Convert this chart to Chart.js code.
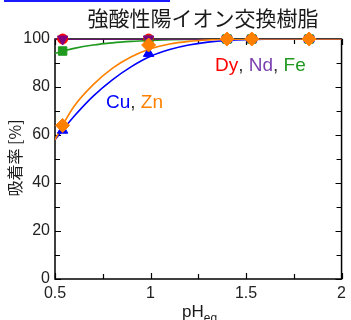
<!DOCTYPE html>
<html>
<head>
<meta charset="utf-8">
<script src="https://cdn.jsdelivr.net/npm/chart.js@4"></script>
<style>
  html, body { margin: 0; padding: 0; background: #fff; }
  #wrap { position: relative; width: 351px; height: 320px; }
  #link { position: absolute; left: 4px; top: 0; width: 166px; height: 2px; background: #1a1aff; }
</style>
</head>
<body>
<div id="wrap">
  <canvas id="chart" width="351" height="320"></canvas>
  <div id="link"></div>
</div>
<script>
// measured points (pH vs adsorption %)
const phPoints = [0.54, 0.99, 1.4, 1.53, 1.83];
const cuRate = [62, 94, 100, 100, 100];
const znRate = [64, 97.5, 100, 100, 100];
const feRate = [95, 99.5, 100, 100, 100];
const ndRate = [100, 100, 100, 100, 100];
const dyRate = [100, 100, 100, 100, 100];

// fitted curves
const fitPh = [0.5, 0.55, 0.6, 0.7, 0.8, 0.9, 1.0, 1.1, 1.2, 1.3, 1.4, 1.6, 2.0];
const cuFit = [58, 63, 67.8, 76.2, 83, 88.5, 92.8, 95.6, 97.5, 98.7, 99.4, 99.9, 100];
const znFit = [58, 65.5, 72, 81, 87.8, 92.6, 95.9, 97.9, 99, 99.6, 99.9, 100, 100];
const feFit = [94, 95.1, 96.1, 97.5, 98.4, 99, 99.4, 99.7, 99.85, 99.95, 100, 100, 100];
const ndFit = [100, 100, 100, 100, 100, 100, 100, 100, 100, 100, 100, 100, 100];

const xTicks = [0.5, 1, 1.5, 2];

const BLUE = '#0000ff', ORANGE = '#ff8000', GREEN = '#1f9a1f', PURPLE = '#800080', RED = '#ff0000';

const pts = (xs, ys) => xs.map((x, i) => ({ x: x, y: ys[i] }));

function markerSet(data, color, style, r, rot, order) {
  return {
    data: pts(phPoints, data), showLine: false, clip: false,
    pointStyle: style, pointRadius: r, pointRotation: rot || 0,
    backgroundColor: color, borderColor: color, borderWidth: 1, order: order
  };
}
function curveSet(data, color, order) {
  return {
    data: pts(fitPh, data), showLine: true, pointRadius: 0,
    borderColor: color, borderWidth: 1.6, cubicInterpolationMode: 'monotone', order: order
  };
}

// inward ticks, frame and the text labels
const decor = {
  id: 'decor',
  beforeDatasetsDraw(chart) {
    const ctx = chart.ctx, a = chart.chartArea;
    const xs = chart.scales.x, ys = chart.scales.y;
    ctx.save();
    ctx.strokeStyle = '#000';
    ctx.lineWidth = 1.5;
    ctx.strokeRect(a.left, a.top, a.right - a.left, a.bottom - a.top);
    ctx.lineWidth = 1.2;
    ctx.beginPath();
    for (let v = 0; v <= 100; v += 10) {
      const y = Math.round(ys.getPixelForValue(v)) + 0.5;
      const len = v % 20 === 0 ? 6 : 5;
      ctx.moveTo(a.left, y); ctx.lineTo(a.left + len, y);
      ctx.moveTo(a.right, y); ctx.lineTo(a.right - len, y);
    }
    for (let v = 0.5; v <= 2.001; v += 0.25) {
      const x = Math.round(xs.getPixelForValue(v)) + 0.5;
      const len = Math.abs(v * 2 - Math.round(v * 2)) < 0.01 ? 6 : 5;
      ctx.moveTo(x, a.bottom); ctx.lineTo(x, a.bottom - len);
      ctx.moveTo(x, a.top); ctx.lineTo(x, a.top + len);
    }
    ctx.stroke();
    ctx.restore();
  },
  afterDraw(chart) {
    const ctx = chart.ctx;
    ctx.save();
    // title
    ctx.fillStyle = '#1a1a1a';
    ctx.textAlign = 'center';
    ctx.textBaseline = 'middle';
    ctx.font = '21px "Noto Sans CJK JP"';
    ctx.fillText('強酸性陽イオン交換樹脂', 203, 18);

    // y axis title
    ctx.save();
    ctx.translate(15, 158);
    ctx.rotate(-Math.PI / 2);
    ctx.font = '16px "Noto Sans CJK JP"';
    ctx.fillText('吸着率 [%]', 0, 0);
    ctx.restore();

    // x axis title pH_eq
    ctx.textAlign = 'left';
    ctx.textBaseline = 'alphabetic';
    ctx.font = '17px "Liberation Sans"';
    ctx.fillText('pH', 182, 317);
    const w = ctx.measureText('pH').width;
    ctx.font = '12px "Liberation Sans"';
    ctx.fillText('eq', 182 + w, 322);

    // series labels
    function colored(parts, x, y) {
      ctx.font = '19px "Liberation Sans"';
      ctx.textBaseline = 'middle';
      let cx = x;
      parts.forEach(p => {
        ctx.fillStyle = p[1];
        ctx.fillText(p[0], cx, y);
        cx += ctx.measureText(p[0]).width;
      });
    }
    colored([['Cu', BLUE], [', ', '#333'], ['Zn', ORANGE]], 106, 103);
    colored([['Dy', RED], [', ', '#333'], ['Nd', '#7b3fb0'], [', ', '#333'], ['Fe', GREEN]], 215, 66);
    ctx.restore();
  }
};

new Chart(document.getElementById('chart').getContext('2d'), {
  type: 'scatter',
  data: {
    datasets: [
      markerSet(znRate, ORANGE, 'rectRot', 7, 0, 1),
      markerSet(cuRate, BLUE, 'triangle', 6, 0, 2),
      markerSet(ndRate, PURPLE, 'triangle', 6, 180, 3),
      markerSet(feRate, GREEN, 'rect', 6, 0, 4),
      markerSet(dyRate, RED, 'circle', 5, 0, 5),
      curveSet(znFit, ORANGE, 6),
      curveSet(cuFit, BLUE, 7),
      curveSet(ndFit, PURPLE, 8),
      curveSet(feFit, GREEN, 9)
    ]
  },
  options: {
    responsive: false,
    animation: false,
    layout: { padding: { top: 39, right: 7, left: 0, bottom: 0 } },
    plugins: { legend: { display: false }, tooltip: { enabled: false } },
    scales: {
      x: {
        type: 'linear', min: 0.5, max: 2,
        afterBuildTicks: s => { s.ticks = xTicks.map(v => ({ value: v })); },
        afterFit: s => { s.height = 41; },
        grid: { display: false, drawTicks: false },
        border: { display: false },
        ticks: {
          padding: 5, color: '#222', maxRotation: 0,
          font: { family: 'Liberation Sans', size: 16 },
          callback: v => String(v)
        }
      },
      y: {
        min: 0, max: 100,
        afterFit: s => { s.width = 55; },
        grid: { display: false, drawTicks: false },
        border: { display: false },
        ticks: {
          stepSize: 20, padding: 5, color: '#222',
          font: { family: 'Liberation Sans', size: 16 }
        }
      }
    }
  },
  plugins: [decor]
});
</script>
</body>
</html>
